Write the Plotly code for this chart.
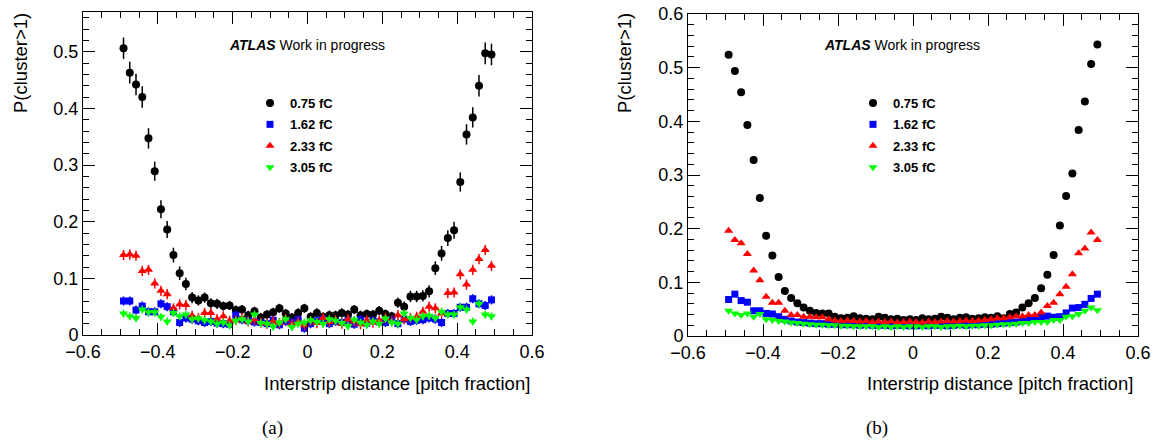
import plotly.graph_objects as go

# bin centres: 60 bins of interstrip distance between -0.5 and 0.5
x_bins = [round(-0.5 + (i + 0.5) / 60, 5) for i in range(60)]

labels = ["0.75 fC", "1.62 fC", "2.33 fC", "3.05 fC"]
colors = ["black", "#0000ff", "#ff0000", "#00ff00"]
symbols = ["circle", "square", "triangle-up", "triangle-down"]

# ---- panel (a) ----
a_075 = [0.506, 0.463, 0.442, 0.420, 0.347, 0.289, 0.222, 0.186, 0.141, 0.109,
         0.090, 0.066, 0.061, 0.066, 0.056, 0.055, 0.051, 0.052, 0.044, 0.045,
         0.035, 0.042, 0.031, 0.036, 0.040, 0.047, 0.038, 0.031, 0.039, 0.047,
         0.032, 0.039, 0.032, 0.035, 0.035, 0.039, 0.036, 0.045, 0.035, 0.037,
         0.036, 0.043, 0.037, 0.033, 0.057, 0.050, 0.068, 0.068, 0.069, 0.077,
         0.118, 0.144, 0.171, 0.185, 0.270, 0.354, 0.384, 0.440, 0.497, 0.495]
a_162 = [0.060, 0.060, 0.044, 0.051, 0.041, 0.041, 0.055, 0.050, 0.041, 0.022,
         0.030, 0.028, 0.025, 0.022, 0.024, 0.021, 0.020, 0.019, 0.035, 0.027,
         0.025, 0.023, 0.022, 0.020, 0.026, 0.018, 0.024, 0.022, 0.027, 0.012,
         0.020, 0.025, 0.028, 0.020, 0.024, 0.022, 0.026, 0.019, 0.027, 0.021,
         0.025, 0.023, 0.022, 0.026, 0.020, 0.028, 0.024, 0.026, 0.027, 0.030,
         0.028, 0.022, 0.038, 0.038, 0.049, 0.049, 0.064, 0.055, 0.052, 0.062]
a_233 = [0.141, 0.142, 0.140, 0.113, 0.115, 0.091, 0.078, 0.072, 0.047, 0.054,
         0.053, 0.034, 0.030, 0.039, 0.039, 0.028, 0.033, 0.025, 0.026, 0.030,
         0.024, 0.027, 0.022, 0.020, 0.024, 0.021, 0.028, 0.019, 0.023, 0.017,
         0.025, 0.021, 0.030, 0.023, 0.026, 0.020, 0.028, 0.024, 0.019, 0.026,
         0.022, 0.025, 0.030, 0.024, 0.035, 0.028, 0.030, 0.032, 0.041, 0.050,
         0.047, 0.038, 0.074, 0.075, 0.107, 0.089, 0.115, 0.134, 0.150, 0.122]
a_305 = [0.038, 0.033, 0.030, 0.045, 0.040, 0.040, 0.032, 0.024, 0.039, 0.033,
         0.036, 0.028, 0.029, 0.026, 0.024, 0.020, 0.022, 0.017, 0.025, 0.028,
         0.024, 0.036, 0.021, 0.020, 0.015, 0.022, 0.028, 0.014, 0.020, 0.022,
         0.026, 0.023, 0.020, 0.028, 0.025, 0.021, 0.016, 0.027, 0.022, 0.018,
         0.024, 0.020, 0.029, 0.022, 0.020, 0.038, 0.030, 0.027, 0.033, 0.034,
         0.030, 0.041, 0.036, 0.036, 0.049, 0.045, 0.024, 0.055, 0.036, 0.033]
a_075_err = [0.019, 0.019, 0.019, 0.019, 0.018, 0.017, 0.016, 0.015, 0.013, 0.012,
             0.011, 0.010, 0.009, 0.009, 0.009, 0.009, 0.008, 0.008, 0.008, 0.008,
             0.008, 0.008, 0.008, 0.008, 0.008, 0.008, 0.008, 0.008, 0.008, 0.008,
             0.008, 0.008, 0.008, 0.008, 0.008, 0.008, 0.008, 0.008, 0.008, 0.008,
             0.008, 0.008, 0.008, 0.008, 0.009, 0.009, 0.010, 0.010, 0.010, 0.011,
             0.012, 0.013, 0.014, 0.015, 0.017, 0.018, 0.018, 0.019, 0.019, 0.019]
a_other_err = [0.008, 0.009, 0.007]

# ---- panel (b) ----
b_075 = [0.524, 0.494, 0.454, 0.393, 0.328, 0.257, 0.187, 0.150, 0.110, 0.084,
         0.071, 0.061, 0.053, 0.047, 0.043, 0.042, 0.042, 0.036, 0.033, 0.034,
         0.037, 0.033, 0.032, 0.031, 0.036, 0.034, 0.031, 0.032, 0.030, 0.031,
         0.030, 0.033, 0.031, 0.032, 0.036, 0.034, 0.031, 0.034, 0.035, 0.032,
         0.033, 0.035, 0.034, 0.037, 0.033, 0.041, 0.044, 0.053, 0.061, 0.071,
         0.089, 0.114, 0.151, 0.206, 0.261, 0.303, 0.384, 0.437, 0.507, 0.543]
b_162 = [0.068, 0.078, 0.066, 0.063, 0.047, 0.047, 0.042, 0.041, 0.036, 0.031,
         0.028, 0.026, 0.025, 0.024, 0.023, 0.023, 0.022, 0.022, 0.021, 0.021,
         0.021, 0.020, 0.021, 0.020, 0.020, 0.020, 0.019, 0.020, 0.020, 0.019,
         0.019, 0.020, 0.019, 0.020, 0.020, 0.019, 0.020, 0.021, 0.020, 0.021,
         0.021, 0.022, 0.022, 0.023, 0.024, 0.025, 0.026, 0.028, 0.030, 0.033,
         0.035, 0.037, 0.035, 0.036, 0.043, 0.052, 0.053, 0.059, 0.070, 0.078]
b_233 = [0.196, 0.179, 0.173, 0.153, 0.122, 0.104, 0.073, 0.062, 0.062, 0.047,
         0.039, 0.039, 0.036, 0.036, 0.035, 0.035, 0.031, 0.029, 0.028, 0.029,
         0.028, 0.027, 0.028, 0.026, 0.027, 0.026, 0.027, 0.025, 0.026, 0.027,
         0.026, 0.025, 0.027, 0.026, 0.027, 0.028, 0.027, 0.028, 0.029, 0.028,
         0.029, 0.030, 0.031, 0.033, 0.033, 0.035, 0.037, 0.037, 0.039, 0.039,
         0.044, 0.056, 0.062, 0.078, 0.092, 0.115, 0.154, 0.163, 0.193, 0.179]
b_305 = [0.047, 0.042, 0.039, 0.042, 0.036, 0.041, 0.031, 0.030, 0.028, 0.027,
         0.025, 0.024, 0.023, 0.022, 0.021, 0.021, 0.020, 0.020, 0.019, 0.019,
         0.018, 0.018, 0.018, 0.018, 0.017, 0.018, 0.017, 0.018, 0.017, 0.018,
         0.018, 0.017, 0.018, 0.018, 0.017, 0.018, 0.018, 0.019, 0.018, 0.019,
         0.019, 0.020, 0.020, 0.021, 0.022, 0.022, 0.023, 0.024, 0.024, 0.026,
         0.026, 0.026, 0.030, 0.030, 0.036, 0.037, 0.041, 0.047, 0.053, 0.048]
b_err = [0.004, 0.002, 0.003, 0.002]

W, H = 1153, 442
FONT = "Liberation Sans, Arial, Helvetica, sans-serif"

fig = go.Figure()

a_series = [a_075, a_162, a_233, a_305]
b_series = [b_075, b_162, b_233, b_305]

for k in range(4):
    err = a_075_err if k == 0 else [a_other_err[k - 1]] * 60
    fig.add_trace(go.Scatter(
        x=x_bins, y=a_series[k], mode="markers", name=labels[k],
        xaxis="x", yaxis="y", legend="legend", legendgroup="a%d" % k,
        marker=dict(symbol=symbols[k], color=colors[k], size=8 if k != 1 else 7),
        error_y=dict(type="data", array=err, color=colors[k], thickness=1.5, width=0),
        error_x=dict(type="constant", value=1 / 120, color=colors[k], thickness=1.5, width=0),
    ))

for k in range(4):
    fig.add_trace(go.Scatter(
        x=x_bins, y=b_series[k], mode="markers", name=labels[k],
        xaxis="x2", yaxis="y2", legend="legend2", legendgroup="b%d" % k,
        marker=dict(symbol=symbols[k], color=colors[k], size=8 if k != 1 else 7),
        error_y=dict(type="constant", value=b_err[k], color=colors[k], thickness=1, width=0),
        error_x=dict(type="constant", value=1 / 120, color=colors[k], thickness=1, width=0),
    ))


def px_x(p):
    return p / W


def px_y(p):
    return 1 - p / H


axis_common = dict(
    showline=True, linecolor="black", linewidth=1, mirror="allticks",
    ticks="inside", ticklen=12, tickcolor="black", tickwidth=1,
    showgrid=False, zeroline=False, automargin=False,
    tickfont=dict(family=FONT, size=18, color="black"),
)
minor_x = dict(dtick=0.05, ticks="inside", ticklen=6, tickcolor="black", showgrid=False)
minor_y = dict(dtick=0.02, ticks="inside", ticklen=6, tickcolor="black", showgrid=False)
legend_common = dict(xanchor="left", yanchor="top", bgcolor="rgba(0,0,0,0)",
                     traceorder="grouped", tracegroupgap=1.5,
                     font=dict(family=FONT, size=13, color="black", weight="bold"))

fig.update_layout(
    template="none",
    width=W, height=H,
    margin=dict(l=0, r=0, t=0, b=0, autoexpand=False),
    paper_bgcolor="white", plot_bgcolor="white",
    font=dict(family=FONT, color="black"),
    xaxis=dict(axis_common, domain=[px_x(83), px_x(532)], range=[-0.6, 0.6],
               dtick=0.2, tick0=0, anchor="y", minor=minor_x),
    yaxis=dict(axis_common, domain=[px_y(335), px_y(12)], range=[0, 0.57],
               dtick=0.1, tick0=0, anchor="x", minor=minor_y),
    xaxis2=dict(axis_common, domain=[px_x(688), px_x(1138)], range=[-0.6, 0.6],
                dtick=0.2, tick0=0, anchor="y2", minor=minor_x),
    yaxis2=dict(axis_common, domain=[px_y(336), px_y(14)], range=[0, 0.6],
                dtick=0.1, tick0=0, anchor="x2", minor=minor_y),
    legend=dict(legend_common, x=px_x(250), y=px_y(88)),
    legend2=dict(legend_common, x=px_x(853), y=px_y(88)),
)

xtitle = "Interstrip distance [pitch fraction]"
ann = []
for x_end, y_lab_x, atlas_x, cap_x, cap in [(532, 20, 227, 272, "(a)"), (1135, 624, 822, 877, "(b)")]:
    ann.append(dict(x=px_x(x_end), y=px_y(383), xref="paper", yref="paper", text=xtitle,
                    showarrow=False, xanchor="right", yanchor="middle",
                    font=dict(family=FONT, size=18.5, color="black")))
    ann.append(dict(x=px_x(y_lab_x), y=px_y(11), xref="paper", yref="paper", text="P(cluster>1)",
                    showarrow=False, textangle=-90, xanchor="center", yanchor="top",
                    font=dict(family=FONT, size=18.5, color="black")))
    ann.append(dict(x=px_x(atlas_x), y=px_y(45), xref="paper", yref="paper",
                    text="<b><i>ATLAS</i></b> Work in progress",
                    showarrow=False, xanchor="left", yanchor="middle",
                    font=dict(family=FONT, size=14, color="black")))
    ann.append(dict(x=px_x(cap_x), y=px_y(428), xref="paper", yref="paper", text=cap,
                    showarrow=False, xanchor="center", yanchor="middle",
                    font=dict(family="Liberation Serif, DejaVu Serif, serif", size=19, color="black")))
fig.update_layout(annotations=ann)

# drop the default page margin so the figure sits at the window's top-left corner
fig.write_html("out.html", config={"displayModeBar": False},
               post_script="document.body.style.margin='0';")
